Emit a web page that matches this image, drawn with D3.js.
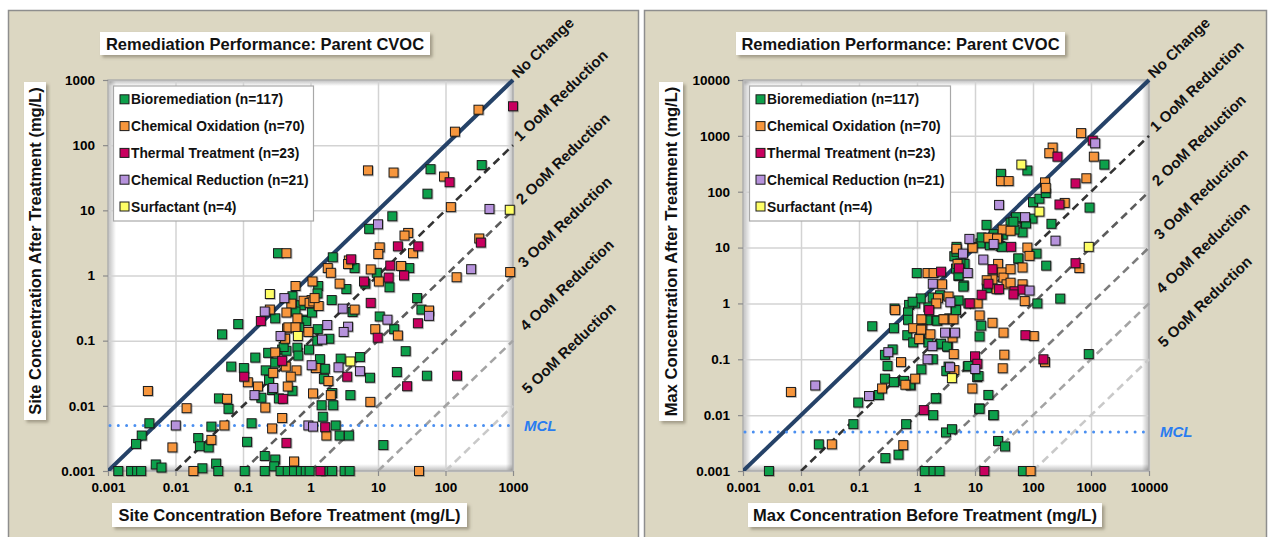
<!DOCTYPE html>
<html>
<head>
<meta charset="utf-8">
<script src="https://cdn.jsdelivr.net/npm/d3@7"></script>
<style>
  html, body { margin: 0; padding: 0; background: #ffffff; }
  svg { display: block; font-family: "Liberation Sans", Arial, Helvetica, sans-serif; }
</style>
</head>
<body>
<svg id="chart" width="1268" height="537"></svg>
<script>
// ---------- series & labels ----------
const seriesNames = ["Bioremediation (n=117)", "Chemical Oxidation (n=70)", "Thermal Treatment (n=23)",
                     "Chemical Reduction (n=21)", "Surfactant (n=4)"];
const seriesColors = ["#0ea04b", "#f7963c", "#c8005f", "#b692dc", "#ffff66"];

const siteTicks = [0.001, 0.01, 0.1, 1, 10, 100, 1000];
const maxTicks = [0.001, 0.01, 0.1, 1, 10, 100, 1000, 10000];

const reductionOrders = [0, 1, 2, 3, 4, 5];
const reductionLabels = ["No Change", "1 OoM Reduction", "2 OoM Reduction", "3 OoM Reduction",
                         "4 OoM Reduction", "5 OoM Reduction"];
const mclValue = 0.005;

// ---------- site concentrations [before, after] (mg/L) ----------
const siteBioremediation = [
  [344,49.5],[60,42.8],[54,18],[16.3,8.1],[7.4,5.2],[0.33,2.2],[2.14,1.9],[4.5,1.3],[9.6,1.1],[29,1.3],
  [1.3,0.69],[1.27,0.53],[3.4,0.62],[6.5,0.75],[14.8,0.66],[0.54,0.48],[0.72,0.35],[2.06,0.42],[38,0.45],[44,0.3],
  [4.2,0.275],[0.3,0.22],[0.81,0.21],[0.085,0.18],[0.049,0.125],[10.6,0.235],[17.4,0.15],[1.28,0.15],[1.9,0.107],[0.95,0.073],
  [0.38,0.073],[0.64,0.078],[0.66,0.059],[1.38,0.052],[0.236,0.065],[0.152,0.055],[0.3,0.046],[0.067,0.04],[0.103,0.038],[0.217,0.035],
  [0.243,0.025],[1.63,0.037],[1.58,0.026],[5.4,0.056],[7.6,0.027],[19,0.033],[25.7,0.069],[53,0.029],[2.8,0.053],[3.9,0.0146],
  [2.1,0.0157],[0.27,0.0175],[0.54,0.017],[0.34,0.013],[0.044,0.013],[0.061,0.009],[0.187,0.0133],[1.46,0.0102],[2.17,0.0102],[1.52,0.0068],
  [2.36,0.005],[0.134,0.0054],[0.034,0.0048],[0.0041,0.0054],[0.00316,0.0035],[0.0026,0.0026],[0.0217,0.0032],[0.023,0.0024],[0.031,0.0023],[0.115,0.0028],
  [0.025,0.0011],[0.04,0.0013],[0.0051,0.00126],[0.0062,0.00113],[0.21,0.0017],[0.3,0.0015],[0.29,0.00118],[2.7,0.0035],[3.7,0.0035],[12,0.0025],
  [0.00142,0.001],[0.0022,0.001],[0.0027,0.001],[0.0031,0.001],[0.043,0.001],[0.106,0.001],[0.21,0.001],[0.36,0.001],[0.46,0.001],[0.57,0.001],
  [0.72,0.001],[0.85,0.001],[0.97,0.001],[1.65,0.001],[2.09,0.001],[3.2,0.001],[3.8,0.001],
  [0.86,0.2],[1.26,0.1],[0.44,0.07],[0.4,0.08],[0.68,0.16],[1.05,0.27],[0.6,0.28]
];
const siteChemicalOxidation = [
  [308,350],[138,161],[7.1,41],[17,38],[95,33],[120,11.2],[28,4.5],[24.7,4.1],[316,3.7],[10.6,2.7],
  [10.1,2.14],[33,2.2],[0.44,2.2],[22,1.4],[3.7,1.7],[3.6,1.5],[1.8,1.3],[2.0,1.1],[7.8,1.24],[146,0.94],
  [908,1.13],[10.3,0.81],[1.07,0.81],[0.6,0.69],[2.7,0.75],[0.79,0.41],[1.04,0.42],[0.97,0.38],[1.1,0.4],[0.52,0.37],
  [1.32,0.34],[4.5,0.3],[0.25,0.3],[0.44,0.27],[0.64,0.22],[0.45,0.154],[0.93,0.136],[9.1,0.15],[19.7,0.12],[0.42,0.107],
  [0.3,0.066],[0.62,0.035],[0.28,0.032],[0.51,0.028],[1.84,0.024],[0.118,0.023],[0.167,0.0198],[0.46,0.0198],[1.09,0.0155],[2.0,0.0146],
  [7.7,0.0115],[0.058,0.0128],[0.0146,0.0092],[0.0039,0.0169],[0.214,0.0094],[0.38,0.0065],[0.053,0.005],[0.27,0.0045],[0.034,0.003],[0.009,0.0023],
  [1.72,0.0035],[0.57,0.0014],[0.0184,0.001],[40.5,0.001],[57,0.29],[1.2,0.038],[0.43,0.04],[1.15,0.45],[0.47,0.16],[0.6,0.16]
];
const siteThermal = [
  [1000,395],[115,27],[334,3.2],[19.7,2.8],[39.5,2.8],[4.0,1.77],[15.2,1.42],[24.3,1.0],[14.4,0.93],[6.2,0.81],
  [7.8,0.38],[0.184,0.2],[39,0.185],[9.9,0.111],[0.38,0.049],[0.104,0.028],[3.5,0.028],[148,0.029],[0.39,0.0128],[27,0.02],
  [1.65,0.0047],[0.44,0.0027],[1.4,0.001]
];
const siteChemicalReduction = [
  [448,10.5],[10,6.1],[240,1.25],[0.41,0.45],[0.21,0.28],[3.0,0.31],[1.77,0.174],[3.6,0.164],[13.8,0.21],[57,0.24],
  [0.36,0.118],[1.48,0.104],[3.1,0.136],[1.04,0.042],[2.6,0.039],[5.4,0.034],[0.28,0.0188],[0.148,0.0146],[0.0101,0.005],[0.93,0.005],
  [1.09,0.0048]
];
const siteSurfactant = [[0.25,0.52],[0.65,0.118],[3.9,0.048],[895,10.2]];

// ---------- maximum concentrations [before, after] (mg/L) ----------
const maxBioremediation = [
  [0.0028,0.001],[0.0203,0.003],[0.08,0.0069],[0.097,0.0168],[0.22,0.0229],[0.285,0.0017],[0.48,0.00196],[0.65,0.0069],[1.36,0.001],[1.93,0.001],
  [2.45,0.001],[1.9,0.01],[2.15,0.02],[3.16,0.0049],[4.0,0.0056],[11.8,0.0132],[17,0.023],[20.6,0.01],[25,0.00345],[33,0.00275],
  [67,0.001],[914,0.124],[295,1.22],[119,1.0],[169,4.75],[115,7.8],[56,6.3],[208,26.6],[944,52],[1700,306],
  [80,240],[28,209],[100,65],[129,75],[166,95],[98,33],[72,28],[66,18.7],[50,33],[15.8,25.5],
  [12.4,11.9],[21.7,13.7],[27.5,10.6],[4.8,10.3],[4.4,7],[6.6,5.1],[5.2,3.1],[6.4,2.1],[0.99,3.5],[5.2,1.13],
  [4.6,0.76],[4.0,0.53],[2.2,0.5],[0.93,1.0],[0.73,0.94],[0.7,0.69],[0.7,0.51],[1.57,0.85],[1.5,0.5],[0.68,0.27],
  [0.86,0.2],[1.14,0.245],[1.57,0.2],[0.169,0.39],[0.4,0.36],[0.38,0.15],[0.28,0.12],[0.31,0.076],[0.28,0.045],[0.4,0.039],
  [0.6,0.041],[0.78,0.034],[1.19,0.066],[1.87,0.1],[2.5,0.185],[3.4,0.167],[3.5,0.074],[7.5,0.074],[10.9,0.048],[12,0.256],
  [12.8,0.4],[3.2,0.062],[16,1.9],[41,28],[48,21],[24.5,15.8],[4.8,8.4],[5.6,5.2],[4.7,4.2],[5.2,3.2],
  [6.3,2.0],[13,15.2],[18,11],[29,10.3],[21,17.4],[51,35],[56,6.4],[7.7,1.0],[1.16,1.23],[0.84,1.07],
  [0.41,0.81],[1.86,1.28],[2.5,1.4],[2.24,0.49],[3.6,0.54],[4.7,0.76],[2.6,0.19],[3.3,0.17],[0.76,0.035],[7.7,0.076],
  [11.5,0.05],[12,0.013],[21,0.01],[2.1,0.02],[46,29],[76,27],[30,17]
];
const maxChemicalOxidation = [
  [0.0067,0.026],[0.034,0.003],[0.25,0.03],[0.53,0.089],[0.63,0.035],[0.93,0.045],[0.58,0.0029],[0.42,0.76],[0.86,0.36],[1.19,0.52],
  [1.23,0.35],[1.09,0.23],[1.7,0.28],[1.52,3.5],[1.93,3.5],[2.7,2.2],[2.3,1.24],[2.15,1.0],[3.5,1.33],[3.0,0.52],
  [4.1,0.245],[4.3,0.124],[4.4,0.064],[4.8,9.5],[5.0,5.1],[9.0,10.2],[17,15],[25,15],[30,21],[41,20],
  [25,5.1],[29,3.6],[31,2.9],[35,2.2],[20,2.7],[23.5,1.8],[41,4.1],[41,2.35],[66,4.4],[66,2.2],
  [72,1.1],[80,10],[87,7.1],[161,147],[166,117],[218,617],[191,490],[28,155],[38,155],[676,1120],
  [832,174],[1120,424],[352,63],[630,4.3],[11.1,1.0],[12,0.61],[20,0.45],[31,0.3],[32,0.121],[30,0.069],
  [9.0,0.03],[103,0.26],[161,0.089],[91,0.001],[9.1,9.9],[24,14.5],[1.18,0.34],[2.86,0.52],[4.26,0.52],[15.9,2.6]
];
const maxThermal = [
  [264,424],[1070,822],[541,141],[286,59],[541,5.25],[42,10.3],[2.6,3.7],[5.3,4.25],[20,4.1],[17,2.25],
  [26,1.8],[13,1.43],[8.1,1.0],[48,1.65],[66,1.77],[1.62,0.76],[74,0.27],[10,0.113],[11,0.083],[151,0.1],
  [1.31,0.0123],[14.5,0.001],[46,1.45]
];
const maxChemicalReduction = [
  [0.0176,0.034],[0.149,0.022],[0.32,0.134],[1.52,0.1],[1.84,0.172],[3.05,0.3],[4.5,0.3],[3.7,0.072],[10.1,0.067],[1.87,2.25],
  [3.76,1.05],[7.5,3.5],[6.2,7.8],[8.0,14.3],[13.9,6.1],[21,11.6],[26,58],[73,35],[87,1.7],[244,13.3],
  [1180,735]
];
const maxSurfactant = [[63,306],[129,44],[914,10.3],[4.0,0.046]];

// ---------- panel layout ----------
const panels = [
  {
    frame: { x: 8, w: 630 },
    plot: { x0: 108, x1: 513, y0: 80, y1: 471 },
    max: 1000, ticks: siteTicks,
    title: { x: 100, y: 32, w: 330, h: 23 },
    yTitle: { x: 24, y: 82, w: 22, h: 338, text: "Site Concentration After Treatment (mg/L)" },
    xTitle: { x: 112, y: 503, w: 355, h: 24, text: "Site Concentration Before Treatment (mg/L)" },
    legend: { x: 113.5, y: 86, w: 200, h: 135 },
    series: [siteBioremediation, siteChemicalOxidation, siteThermal, siteChemicalReduction, siteSurfactant]
  },
  {
    frame: { x: 644, w: 622 },
    plot: { x0: 743, x1: 1149, y0: 80, y1: 471 },
    max: 10000, ticks: maxTicks,
    title: { x: 736, y: 32, w: 329, h: 23 },
    yTitle: { x: 659, y: 82, w: 24, h: 339, text: "Max Concentration After Treatment (mg/L)" },
    xTitle: { x: 748, y: 503, w: 354, h: 24, text: "Max Concentration Before Treatment (mg/L)" },
    legend: { x: 749.5, y: 86, w: 201, h: 135 },
    series: [maxBioremediation, maxChemicalOxidation, maxThermal, maxChemicalReduction, maxSurfactant]
  }
];

const lineStyles = [
  { color: "#254268", width: 4, dash: null },
  { color: "#333333", width: 2.6, dash: "8,5" },
  { color: "#5c5c5c", width: 2.6, dash: "8,5" },
  { color: "#7c7c7c", width: 2.6, dash: "8,5" },
  { color: "#a4a4a4", width: 2.6, dash: "8,5" },
  { color: "#c9c9c9", width: 2.6, dash: "8,5" }
];

const svg = d3.select("#chart");
const defs = svg.append("defs");

const boxShadow = defs.append("filter").attr("id", "boxShadow")
  .attr("x", "-10%").attr("y", "-20%").attr("width", "130%").attr("height", "160%");
boxShadow.append("feDropShadow").attr("dx", 2.5).attr("dy", 2.5).attr("stdDeviation", 1.5)
  .attr("flood-color", "#6f6a55").attr("flood-opacity", 0.55);

const markShadow = defs.append("filter").attr("id", "markShadow")
  .attr("x", "-30%").attr("y", "-30%").attr("width", "170%").attr("height", "170%");
markShadow.append("feDropShadow").attr("dx", 0.8).attr("dy", 0.8).attr("stdDeviation", 0.7)
  .attr("flood-color", "#000").attr("flood-opacity", 0.35);

// soft inner shading along the plot frame
[["shL", 0, 0, 1, 0], ["shR", 1, 0, 0, 0], ["shT", 0, 0, 0, 1], ["shB", 0, 1, 0, 0]].forEach(([id, x1, y1, x2, y2]) => {
  const lg = defs.append("linearGradient").attr("id", id)
    .attr("x1", x1).attr("y1", y1).attr("x2", x2).attr("y2", y2);
  lg.append("stop").attr("offset", 0).attr("stop-color", "#000").attr("stop-opacity", 0.26);
  lg.append("stop").attr("offset", 1).attr("stop-color", "#000").attr("stop-opacity", 0);
});

function drawPanel(p, pi) {
  const g = svg.append("g");
  const { x0, x1, y0, y1 } = p.plot;
  const pw = x1 - x0, ph = y1 - y0;

  // panel background
  g.append("rect").attr("x", p.frame.x + 0.5).attr("y", 10.5)
    .attr("width", p.frame.w).attr("height", 540)
    .attr("fill", "#dcd7c2").attr("stroke", "#8e8e8e").attr("stroke-width", 1.5);

  const x = d3.scaleLog().domain([0.001, p.max]).range([x0, x1]);
  const y = d3.scaleLog().domain([0.001, p.max]).range([y1, y0]);

  // plot area
  g.append("rect").attr("x", x0).attr("y", y0).attr("width", pw).attr("height", ph)
    .attr("fill", "#ffffff");
  g.append("rect").attr("x", x0).attr("y", y0).attr("width", 8).attr("height", ph).attr("fill", "url(#shL)");
  g.append("rect").attr("x", x1 - 7).attr("y", y0).attr("width", 7).attr("height", ph).attr("fill", "url(#shR)");
  g.append("rect").attr("x", x0).attr("y", y0).attr("width", pw).attr("height", 6).attr("fill", "url(#shT)");
  g.append("rect").attr("x", x0).attr("y", y1 - 7).attr("width", pw).attr("height", 7).attr("fill", "url(#shB)");

  // grid lines
  g.append("g").attr("transform", `translate(0,${y1})`)
    .call(d3.axisBottom(x).tickValues(p.ticks).tickSize(-ph).tickFormat(""))
    .call(s => { s.select(".domain").remove(); s.selectAll("line").attr("stroke", "#d3d3d3").attr("stroke-width", 1.5); });
  g.append("g").attr("transform", `translate(${x0},0)`)
    .call(d3.axisLeft(y).tickValues(p.ticks).tickSize(-pw).tickFormat(""))
    .call(s => { s.select(".domain").remove(); s.selectAll("line").attr("stroke", "#d3d3d3").attr("stroke-width", 1.5); });

  g.append("rect").attr("x", x0).attr("y", y0).attr("width", pw).attr("height", ph)
    .attr("fill", "none").attr("stroke", "#a6a6a6").attr("stroke-width", 1.2);

  // axes with tick labels
  const styleAxis = s => {
    s.select(".domain").remove();
    s.selectAll("line").attr("stroke", "#8a8a8a").attr("stroke-width", 1.2);
    s.selectAll("text").attr("fill", "#000").attr("font-size", "13.5px").attr("font-weight", "bold")
      .attr("font-family", "'Liberation Sans', Arial, sans-serif");
  };
  g.append("g").attr("transform", `translate(0,${y1})`)
    .call(d3.axisBottom(x).tickValues(p.ticks).tickFormat(d => String(d)).tickSize(5).tickPadding(6))
    .call(styleAxis);
  g.append("g").attr("transform", `translate(${x0},0)`)
    .call(d3.axisLeft(y).tickValues(p.ticks).tickFormat(d => String(d)).tickSize(5).tickPadding(8))
    .call(styleAxis);

  // reference lines (orders of magnitude reduction)
  const clipId = "clip" + pi;
  defs.append("clipPath").attr("id", clipId).append("rect")
    .attr("x", x0).attr("y", y0 - 2).attr("width", pw + 2).attr("height", ph + 2);
  const lineGen = d3.line().x(d => x(d[0])).y(d => y(d[1]));
  const angle = Math.atan2(y(1) - y(10), x(10) - x(1)) * 180 / Math.PI;
  reductionOrders.forEach((k, i) => {
    const f = Math.pow(10, k);
    const pts = [[0.001 * f, 0.001], [p.max, p.max / f]];
    const st = lineStyles[i];
    g.append("path").attr("d", lineGen(pts)).attr("clip-path", `url(#${clipId})`)
      .attr("fill", "none").attr("stroke", st.color).attr("stroke-width", st.width)
      .attr("stroke-dasharray", st.dash);
    const lx = x1 + 5 + 2 * k, ly = y(p.max / f) - 1 - 2 * k;
    g.append("text").attr("transform", `translate(${lx},${ly}) rotate(${-angle})`)
      .attr("font-size", "15px").attr("font-weight", "bold").attr("fill", "#111")
      .text(reductionLabels[i]);
  });

  // MCL
  const ym = y(mclValue);
  g.append("line").attr("x1", x0 + 2).attr("x2", x1).attr("y1", ym).attr("y2", ym)
    .attr("stroke", "#4a8ff0").attr("stroke-width", 3).attr("stroke-linecap", "round")
    .attr("stroke-dasharray", "0,8.3");
  g.append("text").attr("x", x1 + 11).attr("y", ym + 5.5)
    .attr("font-size", "15px").attr("font-weight", "bold").attr("font-style", "italic")
    .attr("fill", "#2a7cf0").text("MCL");

  // scatter markers, one group per remediation type
  p.series.forEach((data, si) => {
    g.append("g").attr("filter", "url(#markShadow)")
      .selectAll("rect").data(data).join("rect")
      .attr("x", d => x(d[0]) - 4.5).attr("y", d => y(d[1]) - 4.5)
      .attr("width", 9).attr("height", 9)
      .attr("fill", seriesColors[si]).attr("stroke", "#1b1b1b").attr("stroke-width", 1);
  });

  // legend
  const L = p.legend;
  const lg = g.append("g");
  lg.append("rect").attr("x", L.x).attr("y", L.y).attr("width", L.w).attr("height", L.h)
    .attr("fill", "#ffffff").attr("stroke", "#a8a8a8").attr("stroke-width", 1.2);
  seriesNames.forEach((name, i) => {
    const cy = L.y + 13.3 + i * 26.8;
    lg.append("rect").attr("x", L.x + 6.5).attr("y", cy - 4.5).attr("width", 9).attr("height", 9)
      .attr("fill", seriesColors[i]).attr("stroke", "#1b1b1b").attr("stroke-width", 1);
    lg.append("text").attr("x", L.x + 17.5).attr("y", cy + 5)
      .attr("font-size", "13.8px").attr("font-weight", "bold").attr("fill", "#111").text(name);
  });

  // title box
  const T = p.title;
  g.append("rect").attr("x", T.x).attr("y", T.y).attr("width", T.w).attr("height", T.h)
    .attr("fill", "#fff").attr("filter", "url(#boxShadow)");
  g.append("text").attr("x", T.x + T.w / 2).attr("y", T.y + T.h / 2 + 6)
    .attr("text-anchor", "middle").attr("font-size", "16.5px").attr("font-weight", "bold")
    .attr("fill", "#111").text("Remediation Performance: Parent CVOC");

  // axis titles
  const Y = p.yTitle;
  g.append("rect").attr("x", Y.x).attr("y", Y.y).attr("width", Y.w).attr("height", Y.h)
    .attr("fill", "#fff").attr("filter", "url(#boxShadow)");
  g.append("text").attr("transform", `translate(${Y.x + Y.w / 2 + 6},${Y.y + Y.h / 2}) rotate(-90)`)
    .attr("text-anchor", "middle").attr("font-size", "16.5px").attr("font-weight", "bold")
    .attr("fill", "#111").text(Y.text);

  const X = p.xTitle;
  g.append("rect").attr("x", X.x).attr("y", X.y).attr("width", X.w).attr("height", X.h)
    .attr("fill", "#fff").attr("filter", "url(#boxShadow)");
  g.append("text").attr("x", X.x + X.w / 2).attr("y", X.y + X.h / 2 + 6)
    .attr("text-anchor", "middle").attr("font-size", "16.5px").attr("font-weight", "bold")
    .attr("fill", "#111").text(X.text);
}

panels.forEach(drawPanel);
</script>
</body>
</html>
